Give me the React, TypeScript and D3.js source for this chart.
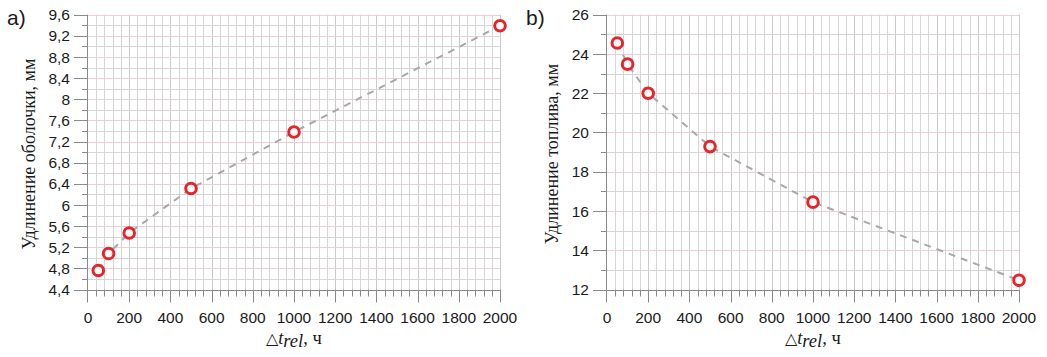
import { useEffect, useRef } from 'react'
import * as d3 from 'd3'

// exposure time, h
const hours = [50, 100, 200, 500, 1000, 2000]
// cladding elongation, mm (panel a)
const claddingElong = [4.76, 5.08, 5.47, 6.31, 7.38, 9.39]
// fuel elongation, mm (panel b)
const fuelElong = [24.56, 23.48, 22.0, 19.28, 16.45, 12.47]

const xTicks = [0, 200, 400, 600, 800, 1000, 1200, 1400, 1600, 1800, 2000]
const yTicksA = [4.4, 4.8, 5.2, 5.6, 6, 6.4, 6.8, 7.2, 7.6, 8, 8.4, 8.8, 9.2, 9.6]
const yTicksB = [12, 14, 16, 18, 20, 22, 24, 26]

const W = 1047
const H = 357

const SANS = 'Liberation Sans, Arial, sans-serif'
const SERIF = 'Liberation Serif, Times New Roman, serif'

interface PanelSpec {
  letter: string
  yLabel: string
  values: number[]
  yTicks: number[]
  yMinorStep: number
  left: number
  titleX: number
}

const panels: PanelSpec[] = [
  { letter: 'a)', yLabel: 'Удлинение оболочки, мм', values: claddingElong, yTicks: yTicksA, yMinorStep: 0.2, left: 88, titleX: 35 },
  { letter: 'b)', yLabel: 'Удлинение топлива, мм', values: fuelElong, yTicks: yTicksB, yMinorStep: 1, left: 607, titleX: 558 },
]

const fmt = (v: number) => String(Math.round(v * 10) / 10).replace('.', ',')

export default function App() {
  const svgRef = useRef<SVGSVGElement>(null)

  useEffect(() => {
    const svg = d3.select(svgRef.current)
    svg.selectAll('*').remove()
    svg.attr('width', W).attr('height', H)

    const top = 14.7
    const bottom = 289.5
    const plotW = 412

    panels.forEach((p) => {
      const yMin = p.yTicks[0]
      const yMax = p.yTicks[p.yTicks.length - 1]
      const x = d3.scaleLinear().domain([0, 2000]).range([p.left, p.left + plotW])
      const y = d3.scaleLinear().domain([yMin, yMax]).range([bottom, top])
      const g = svg.append('g')

      // grid
      const xMinor = d3.range(0, 2000 + 1, 40)
      const yMinor = d3.range(0, Math.round((yMax - yMin) / p.yMinorStep) + 1).map((i) => yMin + i * p.yMinorStep)
      const majorStep = p.yTicks[1] - p.yTicks[0]
      const isMajorY = (v: number) => Math.abs((v - yMin) / majorStep - Math.round((v - yMin) / majorStep)) < 1e-6

      g.selectAll('.vgrid')
        .data(xMinor.slice(1))
        .enter()
        .append('line')
        .attr('x1', (d) => Math.round(x(d)) + 0.5)
        .attr('x2', (d) => Math.round(x(d)) + 0.5)
        .attr('y1', top)
        .attr('y2', bottom)
        .attr('stroke', (d) => (d % 200 === 0 ? '#cbcbcb' : '#d6d6d6'))
        .attr('stroke-width', 1)

      g.selectAll('.hgrid')
        .data(yMinor.slice(1))
        .enter()
        .append('line')
        .attr('x1', p.left)
        .attr('x2', p.left + plotW)
        .attr('y1', (d) => Math.round(y(d)) + 0.5)
        .attr('y2', (d) => Math.round(y(d)) + 0.5)
        .attr('stroke', (d) => (isMajorY(d) ? '#edcdd8' : '#d6d6d6'))
        .attr('stroke-width', 1)

      // axes
      const axisColor = '#8a8a8a'
      g.append('line')
        .attr('x1', p.left - 0.5).attr('x2', p.left + plotW)
        .attr('y1', Math.round(bottom) + 0.5).attr('y2', Math.round(bottom) + 0.5)
        .attr('stroke', axisColor)
      g.append('line')
        .attr('x1', p.left - 0.5).attr('x2', p.left - 0.5)
        .attr('y1', top).attr('y2', bottom + 13)
        .attr('stroke', axisColor)

      // x ticks
      g.selectAll('.xtick')
        .data(xMinor.slice(1))
        .enter()
        .append('line')
        .attr('x1', (d) => Math.round(x(d)) + 0.5)
        .attr('x2', (d) => Math.round(x(d)) + 0.5)
        .attr('y1', bottom)
        .attr('y2', (d) => (d % 200 === 0 ? bottom + 13 : bottom + 7))
        .attr('stroke', axisColor)

      // y ticks
      g.selectAll('.ytick')
        .data(yMinor)
        .enter()
        .append('line')
        .attr('x1', (d) => (isMajorY(d) ? p.left - 14 : p.left - 6))
        .attr('x2', p.left)
        .attr('y1', (d) => Math.round(y(d)) + 0.5)
        .attr('y2', (d) => Math.round(y(d)) + 0.5)
        .attr('stroke', axisColor)

      // tick labels
      g.selectAll('.xlab')
        .data(xTicks)
        .enter()
        .append('text')
        .attr('x', (d) => x(d))
        .attr('y', 323)
        .attr('text-anchor', 'middle')
        .attr('fill', '#1a1a1a')
        .style('font-family', SANS)
        .style('font-size', '15.5px')
        .text((d) => `${d}`)

      g.selectAll('.ylab')
        .data(p.yTicks)
        .enter()
        .append('text')
        .attr('x', p.left - 18)
        .attr('y', (d) => y(d))
        .attr('dy', '0.36em')
        .attr('text-anchor', 'end')
        .attr('fill', '#1a1a1a')
        .style('font-family', SANS)
        .style('font-size', '15.5px')
        .text((d) => fmt(d))

      // panel letter
      g.append('text')
        .attr('x', p.left - 81)
        .attr('y', 25)
        .attr('fill', '#1a1a1a')
        .style('font-family', SANS)
        .style('font-size', '21px')
        .text(p.letter)

      // y title
      g.append('text')
        .attr('transform', `translate(${p.titleX},${(top + bottom) / 2 + 2}) rotate(-90)`)
        .attr('text-anchor', 'middle')
        .attr('fill', '#1a1a1a')
        .style('font-family', SERIF)
        .style('font-size', '18px')
        .text(p.yLabel)

      // x title
      const xt = g.append('text')
        .attr('x', p.left + plotW / 2)
        .attr('y', 344)
        .attr('text-anchor', 'middle')
        .attr('fill', '#1a1a1a')
        .style('font-family', SERIF)
        .style('font-size', '18.5px')
      xt.append('tspan').style('font-family', 'DejaVu Sans, sans-serif').style('font-size', '15.5px').style('font-weight', '200').text('△')
      xt.append('tspan').style('font-style', 'italic').text('t')
      xt.append('tspan').attr('dy', 2.5).style('font-style', 'italic').text('rel')
      xt.append('tspan').attr('dy', -2.5).text(', ч')

      // dashed trend line
      const pts = hours.map((h, i) => [h, p.values[i]] as [number, number])
      const line = d3
        .line<[number, number]>()
        .x((d) => x(d[0]))
        .y((d) => y(d[1]))
      g.append('path')
        .datum(pts)
        .attr('fill', 'none')
        .attr('stroke', '#a8a8a8')
        .attr('stroke-width', 2)
        .attr('stroke-dasharray', '7,6')
        .attr('d', line)

      // markers
      g.selectAll('.pt')
        .data(pts)
        .enter()
        .append('circle')
        .attr('cx', (d) => x(d[0]))
        .attr('cy', (d) => y(d[1]))
        .attr('r', 5.3)
        .attr('fill', 'white')
        .attr('stroke', '#e8242a')
        .attr('stroke-width', 3)
    })
  }, [])

  return (
    <svg
      ref={svgRef}
      style={{ position: 'absolute', left: 0, top: 0, display: 'block', background: '#fff' }}
    />
  )
}
